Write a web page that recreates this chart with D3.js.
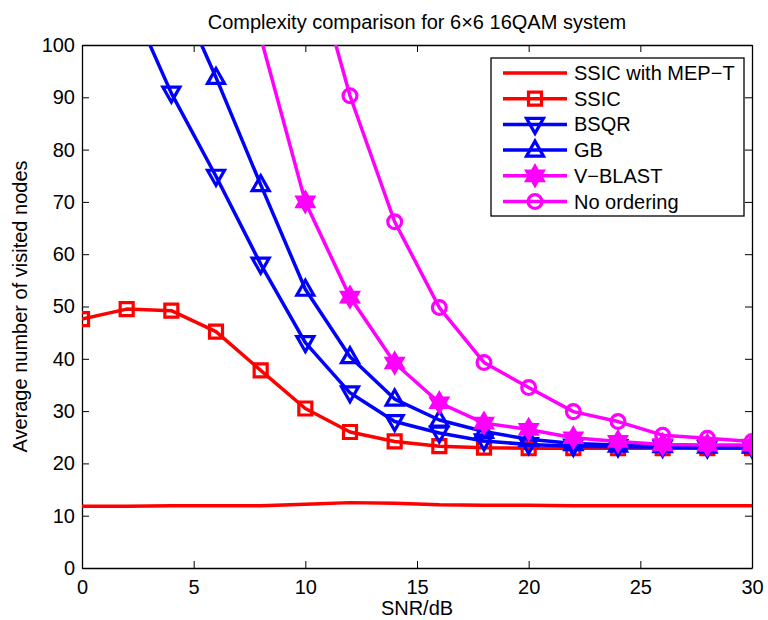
<!DOCTYPE html>
<html lang="en">
<head>
    <meta charset="UTF-8">
    <title>Complexity comparison for 6x6 16QAM system</title>
    <script src="https://d3js.org/d3.v7.min.js"></script>
    <style>
        body {
            margin: 0;
            background: #fff;
        }
        svg text {
            font-family: "Liberation Sans", Arial, sans-serif;
            fill: #000;
        }
    </style>
</head>
<body>
    <div id="chart"></div>

    <script>
        // SNR points (dB)
        const snr = [0, 2, 4, 6, 8, 10, 12, 14, 16, 18, 20, 22, 24, 26, 28, 30];

        // average visited nodes, null where the curve is far above the plot
        const ssicMept = [11.8, 11.8, 11.9, 11.9, 11.9, 12.2, 12.5, 12.4, 12.1, 12.0, 12.0, 11.9, 11.9, 11.9, 11.9, 11.9];
        const ssic     = [47.6, 49.5, 49.2, 45.2, 37.8, 30.5, 26.0, 24.2, 23.3, 23.0, 22.9, 22.9, 22.9, 22.9, 22.9, 22.9];
        const bsqr     = [null, 110, 90.8, 74.9, 58.1, 43.1, 33.5, 28.0, 25.8, 24.3, 23.6, 23.3, 23.2, 23.1, 23.0, 23.0];
        const gb       = [null, null, 113, 93.8, 73.3, 53.3, 40.4, 32.3, 28.3, 26.1, 24.6, 23.8, 23.5, 23.4, 23.3, 23.3];
        const vblast   = [null, null, null, null, 101.5, 70.0, 51.8, 39.2, 31.6, 27.7, 26.5, 24.9, 24.2, 23.6, 23.5, 23.5];
        const noOrder  = [null, null, null, null, null, 121, 90.3, 66.2, 49.8, 39.3, 34.5, 29.9, 28.0, 25.4, 24.8, 24.2];

        const xTicks = [0, 5, 10, 15, 20, 25, 30];
        const yTicks = [0, 10, 20, 30, 40, 50, 60, 70, 80, 90, 100];

        const series = [
            { name: "SSIC with MEP\u2212T", values: ssicMept, color: "#ff0000", marker: null },
            { name: "SSIC", values: ssic, color: "#ff0000", marker: "square" },
            { name: "BSQR", values: bsqr, color: "#0000ff", marker: "down" },
            { name: "GB", values: gb, color: "#0000ff", marker: "up" },
            { name: "V\u2212BLAST", values: vblast, color: "#ff00ff", marker: "hexagram" },
            { name: "No ordering", values: noOrder, color: "#ff00ff", marker: "circle" }
        ];

        const width = 768, height = 620;
        const margin = { top: 45, right: 16, bottom: 52, left: 82 };
        const iw = width - margin.left - margin.right;
        const ih = height - margin.top - margin.bottom;

        const svg = d3.select("#chart").append("svg")
            .attr("width", width)
            .attr("height", height);

        const x = d3.scaleLinear().domain([0, 30]).range([0, iw]);
        const y = d3.scaleLinear().domain([0, 100]).range([ih, 0]);

        const g = svg.append("g").attr("transform", `translate(${margin.left},${margin.top})`);

        svg.append("defs").append("clipPath").attr("id", "plotclip")
            .append("rect").attr("x", 0).attr("y", 0).attr("width", iw).attr("height", ih);

        // title and axis labels
        svg.append("text")
            .attr("x", margin.left + iw / 2)
            .attr("y", 29)
            .attr("text-anchor", "middle")
            .style("font-size", "20px")
            .text("Complexity comparison for 6\u00d76 16QAM system");

        svg.append("text")
            .attr("x", margin.left + iw / 2)
            .attr("y", 615)
            .attr("text-anchor", "middle")
            .style("font-size", "20px")
            .text("SNR/dB");

        svg.append("text")
            .attr("transform", `translate(27,${margin.top + ih / 2}) rotate(-90)`)
            .attr("text-anchor", "middle")
            .style("font-size", "20px")
            .text("Average number of visited nodes");

        // axes, ticks inward on all four sides
        const fmt = d3.format("d");
        g.append("g").attr("transform", `translate(0,${ih})`)
            .call(d3.axisBottom(x).tickValues(xTicks).tickFormat(fmt).tickSizeInner(-7).tickSizeOuter(0).tickPadding(12));
        g.append("g").call(d3.axisTop(x).tickValues(xTicks).tickFormat("").tickSizeInner(-7).tickSizeOuter(0));
        g.append("g")
            .call(d3.axisLeft(y).tickValues(yTicks).tickFormat(fmt).tickSizeInner(-7).tickSizeOuter(0).tickPadding(7));
        g.append("g").attr("transform", `translate(${iw},0)`)
            .call(d3.axisRight(y).tickValues(yTicks).tickFormat("").tickSizeInner(-7).tickSizeOuter(0));

        g.selectAll(".domain").attr("stroke", "#000").attr("stroke-width", 1.3);
        g.selectAll(".tick line").attr("stroke", "#000").attr("stroke-width", 1);
        g.selectAll(".tick text").style("font-size", "20px").attr("fill", "#000");

        // marker shapes
        function markerPath(type) {
            if (type === "square") return "M-6.5,-6.5H6.5V6.5H-6.5Z";
            if (type === "circle") return d3.symbol(d3.symbolCircle, 150)();
            if (type === "up") return "M0,-9L8.5,6L-8.5,6Z";
            if (type === "down") return "M0,9L8.5,-6L-8.5,-6Z";
            if (type === "hexagram") {
                const R = 9.5, r = R / Math.sqrt(3);
                const pts = [];
                for (let i = 0; i < 12; i++) {
                    const a = -Math.PI / 2 + i * Math.PI / 6;
                    const rad = i % 2 === 0 ? R : r;
                    pts.push([rad * Math.cos(a), rad * Math.sin(a)]);
                }
                return "M" + pts.map(p => p.join(",")).join("L") + "Z";
            }
            return null;
        }

        const plot = g.append("g").attr("clip-path", "url(#plotclip)");

        const line = d3.line()
            .defined(d => d[1] !== null)
            .x(d => x(d[0]))
            .y(d => y(d[1]));

        series.forEach(s => {
            const pts = snr.map((v, i) => [v, s.values[i]]);
            plot.append("path")
                .datum(pts)
                .attr("fill", "none")
                .attr("stroke", s.color)
                .attr("stroke-width", 3.5)
                .attr("stroke-linejoin", "round")
                .attr("d", line);

            if (s.marker) {
                const filled = s.marker === "hexagram";
                plot.append("g").selectAll("path")
                    .data(pts.filter(d => d[1] !== null && d[1] <= 100))
                    .enter().append("path")
                    .attr("transform", d => `translate(${x(d[0])},${y(d[1])})`)
                    .attr("d", markerPath(s.marker))
                    .attr("fill", filled ? s.color : "none")
                    .attr("stroke", s.color)
                    .attr("stroke-width", 3.2);
            }
        });

        // legend
        const lx = 491 - margin.left, ly = 58 - margin.top;
        const legend = g.append("g").attr("transform", `translate(${lx},${ly})`);
        legend.append("rect")
            .attr("width", 253).attr("height", 158)
            .attr("fill", "#fff").attr("stroke", "#000").attr("stroke-width", 1.3);

        series.forEach((s, i) => {
            const row = legend.append("g").attr("transform", `translate(0,${15 + i * 25.7})`);
            row.append("line")
                .attr("x1", 12).attr("x2", 76)
                .attr("stroke", s.color).attr("stroke-width", 3.5);
            if (s.marker) {
                row.append("path")
                    .attr("transform", "translate(44,0)")
                    .attr("d", markerPath(s.marker))
                    .attr("fill", s.marker === "hexagram" ? s.color : "none")
                    .attr("stroke", s.color)
                    .attr("stroke-width", 3.2);
            }
            row.append("text")
                .attr("x", 83)
                .attr("dy", "0.35em")
                .style("font-size", "20px")
                .text(s.name);
        });
    </script>
</body>
</html>
